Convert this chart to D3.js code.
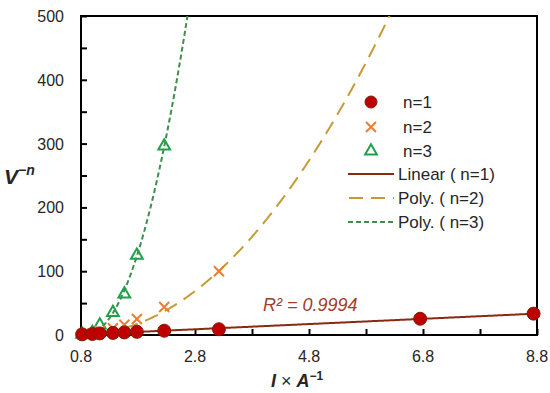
<!DOCTYPE html>
<html>
<head>
<meta charset="utf-8">
<script src="https://cdn.jsdelivr.net/npm/d3@7"></script>
<style>
  body { margin: 0; background: #fff; }
  text { font-family: "Liberation Sans", Arial, sans-serif; fill: #262626; }
</style>
</head>
<body>
<svg id="chart" width="550" height="393"></svg>
<script>
// values
let xVals = [0.82, 1.0, 1.13, 1.36, 1.56, 1.78, 2.26, 3.22, 6.75, 8.74];
let n1 = [1.0, 1.6, 2.5, 3.3, 4.0, 5.0, 6.7, 9.0, 25.5, 33.5];
let n2 = [1.0, 2.6, 6.2, 10.7, 16, 25, 44, 100];
let n3 = [1.0, 4.0, 15.6, 35, 64, 125, 296];
// poly trendline for n=2 as drawn (c0, c1, c2)
let trend2 = [12.2, -27.66, 17.1];
let xTickLabels = [0.8, 2.8, 4.8, 6.8, 8.8];
let yTickLabels = [0, 100, 200, 300, 400, 500];
let legendNames = ["n=1", "n=2", "n=3", "Linear ( n=1)", "Poly. ( n=2)", "Poly. ( n=3)"];
let r2Text = "R² = 0.9994";

let svg = d3.select("#chart");
let m = {left: 81, right: 537, top: 16, bottom: 335};

let x = d3.scaleLinear().domain([0.8, 8.8]).range([m.left, m.right]);
let y = d3.scaleLinear().domain([0, 500]).range([m.bottom, m.top]);

let poly = co => xv => co.reduce((acc, c, i) => acc + c * Math.pow(xv, i), 0);

// least squares polynomial fit (like the spreadsheet trendline)
function polyFit(xs, ys, order) {
  let n = order + 1;
  let A = [];
  for (let i = 0; i < n; i++) {
    A.push([]);
    for (let j = 0; j <= n; j++) A[i].push(0);
  }
  xs.forEach((xv, k) => {
    for (let i = 0; i < n; i++) {
      for (let j = 0; j < n; j++) A[i][j] += Math.pow(xv, i + j);
      A[i][n] += ys[k] * Math.pow(xv, i);
    }
  });
  for (let i = 0; i < n; i++) {
    for (let r = i + 1; r < n; r++) {
      let f = A[r][i] / A[i][i];
      for (let c = i; c <= n; c++) A[r][c] -= f * A[i][c];
    }
  }
  let co = new Array(n).fill(0);
  for (let i = n - 1; i >= 0; i--) {
    let s = A[i][n];
    for (let j = i + 1; j < n; j++) s -= A[i][j] * co[j];
    co[i] = s / A[i][i];
  }
  return poly(co);
}

let fit1 = polyFit(xVals, n1, 1);
let fit2 = poly(trend2);
let fit3 = polyFit(xVals.slice(0, n3.length), n3, 2);

svg.append("defs").append("clipPath").attr("id", "plotClip")
   .append("rect")
   .attr("x", m.left).attr("y", m.top)
   .attr("width", m.right - m.left).attr("height", m.bottom - m.top);

// axes with inside ticks
let xAxis = d3.axisBottom(x).tickValues(d3.range(0.8, 8.81, 1)).tickSize(-6).tickFormat("");
let yAxis = d3.axisLeft(y).tickValues(d3.range(0, 501, 50)).tickSize(-6).tickFormat("");

svg.append("g").attr("transform", "translate(0," + m.bottom + ")").call(xAxis)
   .call(g => g.select(".domain").remove())
   .selectAll("line").attr("stroke", "#000").attr("stroke-width", 2);
svg.append("g").attr("transform", "translate(" + m.left + ",0)").call(yAxis)
   .call(g => g.select(".domain").remove())
   .selectAll("line").attr("stroke", "#000").attr("stroke-width", 2);

svg.append("rect")
   .attr("x", m.left).attr("y", m.top)
   .attr("width", m.right - m.left).attr("height", m.bottom - m.top)
   .attr("fill", "none").attr("stroke", "#000").attr("stroke-width", 2);

svg.selectAll(".xlab").data(xTickLabels).enter().append("text")
   .attr("x", d => x(d)).attr("y", 362)
   .attr("text-anchor", "middle").attr("font-size", 16)
   .text(d => d.toFixed(1));

svg.selectAll(".ylab").data(yTickLabels).enter().append("text")
   .attr("x", 64).attr("y", d => y(d) + 6)
   .attr("text-anchor", "end").attr("font-size", 16)
   .text(d => d);

// axis titles
let xt = svg.append("text").attr("x", 297).attr("y", 387)
   .attr("text-anchor", "middle").attr("font-size", 18).attr("font-weight", "bold");
xt.append("tspan").attr("font-style", "italic").text("I");
xt.append("tspan").attr("font-weight", "normal").text(" × ");
xt.append("tspan").attr("font-style", "italic").text("A");
xt.append("tspan").attr("dy", -7).attr("font-size", 12).text("−1");

let yt = svg.append("text").attr("x", 4).attr("y", 184)
   .attr("font-size", 21).attr("font-weight", "bold").attr("font-style", "italic");
yt.append("tspan").text("V");
yt.append("tspan").attr("dy", -9).attr("font-size", 14).text("−n");

// trend lines
let fitX = d3.range(0.8, 8.801, 0.02);
let plot = svg.append("g").attr("clip-path", "url(#plotClip)");

let line = f => d3.line().x(d => x(d)).y(d => y(f(d)));

plot.append("path").datum(fitX).attr("d", line(fit1))
    .attr("fill", "none").attr("stroke", "#8B2A14").attr("stroke-width", 2);
plot.append("path").datum(fitX).attr("d", line(fit2))
    .attr("fill", "none").attr("stroke", "#C79A35").attr("stroke-width", 2)
    .attr("stroke-dasharray", "14,8");
plot.append("path").datum(fitX).attr("d", line(fit3))
    .attr("fill", "none").attr("stroke", "#3C8F4E").attr("stroke-width", 2)
    .attr("stroke-dasharray", "5,3");

// markers
let triangle = d3.symbol().type(d3.symbolTriangle).size(60);
let pts = svg.append("g");

pts.selectAll(".tri").data(n3).enter().append("path")
   .attr("transform", (d, i) => "translate(" + x(xVals[i]) + "," + y(d) + ")")
   .attr("d", triangle).attr("fill", "none")
   .attr("stroke", "#21A04B").attr("stroke-width", 2);

let cross = (g, cx, cy, s) => {
  g.append("path")
   .attr("d", "M" + (cx - s) + "," + (cy - s) + "L" + (cx + s) + "," + (cy + s) +
              "M" + (cx - s) + "," + (cy + s) + "L" + (cx + s) + "," + (cy - s))
   .attr("stroke", "#ED7D31").attr("stroke-width", 2);
};
n2.forEach((d, i) => cross(pts, x(xVals[i]), y(d), 5));

pts.selectAll(".dot").data(n1).enter().append("circle")
   .attr("cx", (d, i) => x(xVals[i])).attr("cy", d => y(d))
   .attr("r", 6.5).attr("fill", "#C00000")
   .attr("stroke", "#7A1F0A").attr("stroke-width", 1);

// R² label
svg.append("text").attr("x", 263).attr("y", 311)
   .attr("font-size", 18).attr("font-style", "italic")
   .style("fill", "#A0402C").text(r2Text);

// legend
let lg = svg.append("g");
let rowY = [102, 127, 151, 174, 198, 222];
legendNames.forEach((name, i) => {
  lg.append("text").attr("x", i < 3 ? 403 : 398).attr("y", rowY[i] + 6)
    .attr("font-size", 17).text(name);
});
lg.append("circle").attr("cx", 371).attr("cy", rowY[0]).attr("r", 6)
  .attr("fill", "#C00000").attr("stroke", "#7A1F0A");
cross(lg, 371, rowY[1], 5);
lg.append("path").attr("transform", "translate(371," + rowY[2] + ")")
  .attr("d", triangle).attr("fill", "none").attr("stroke", "#21A04B").attr("stroke-width", 2);
lg.append("line").attr("x1", 348).attr("x2", 394).attr("y1", rowY[3]).attr("y2", rowY[3])
  .attr("stroke", "#8B2A14").attr("stroke-width", 2);
lg.append("line").attr("x1", 349).attr("x2", 394).attr("y1", rowY[4]).attr("y2", rowY[4])
  .attr("stroke", "#C79A35").attr("stroke-width", 2).attr("stroke-dasharray", "14,8");
lg.append("line").attr("x1", 348).attr("x2", 394).attr("y1", rowY[5]).attr("y2", rowY[5])
  .attr("stroke", "#3C8F4E").attr("stroke-width", 2).attr("stroke-dasharray", "5,3");
</script>
</body>
</html>
